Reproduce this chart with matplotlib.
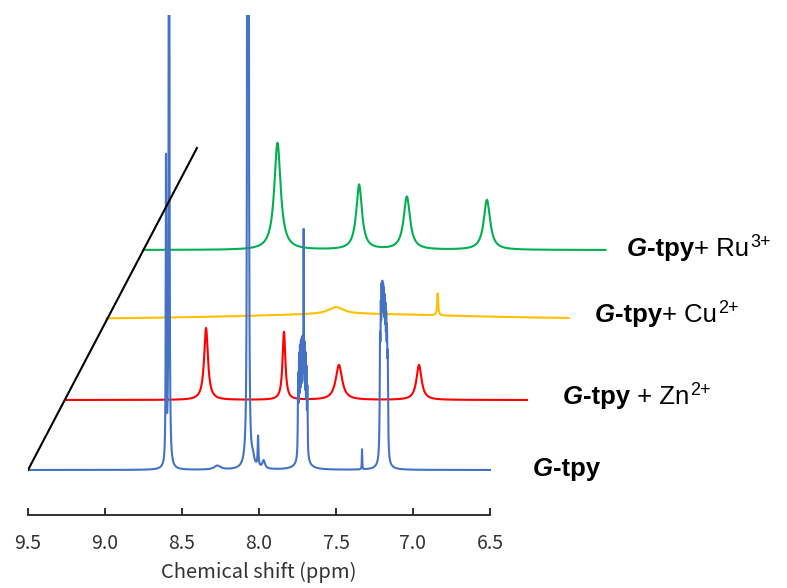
import numpy as np
import matplotlib.pyplot as plt

plt.rcParams['font.family'] = ['Liberation Sans', 'DejaVu Sans']

# eje de desplazamiento quimico (ppm)
ppm = np.linspace(9.5, 6.5, 3001)

# picos: centro (ppm), altura (u.a.), anchura (ppm)
blue_pos = [8.604, 8.584, 8.59, 8.075, 8.068, 8.075, 8.04, 8.006, 7.97, 8.27,
            7.746, 7.740, 7.734, 7.728, 7.722, 7.716, 7.710, 7.704, 7.698, 7.692, 7.686,
            7.715, 7.331,
            7.214, 7.209, 7.204, 7.199, 7.194, 7.189, 7.184, 7.179, 7.174, 7.169, 7.164,
            7.19]
blue_alt = [300, 1200, 8, 1200, 1200, 10, 8, 30, 8, 4,
            75, 85, 87, 87, 86, 84, 195, 83, 80, 73, 63,
            22, 20,
            98, 107, 117, 114, 110, 107, 103, 99, 96, 92, 85,
            10]
blue_anc = [0.004, 0.004, 0.03, 0.004, 0.004, 0.04, 0.02, 0.006, 0.02, 0.05,
            0.004, 0.004, 0.004, 0.004, 0.004, 0.004, 0.003, 0.004, 0.004, 0.004, 0.004,
            0.05, 0.003,
            0.005, 0.005, 0.005, 0.005, 0.005, 0.005, 0.005, 0.005, 0.005, 0.005, 0.005,
            0.04]

red_pos = [8.584, 8.078, 7.721, 7.201]
red_alt = [72, 68, 35, 35]
red_anc = [0.03, 0.022, 0.05, 0.04]

yellow_pos = [7.9, 8.01, 7.35]
yellow_alt = [6, 7, 22]
yellow_anc = [2.0, 0.12, 0.008]

green_pos = [8.63, 8.10, 7.79, 7.27]
green_alt = [107, 65, 53, 50]
green_anc = [0.05, 0.045, 0.05, 0.05]

# desplazamiento de cada espectro (x en ppm, y en u.a.)
desp_x = [0, 0.24, 0.51, 0.75]
desp_y = [0, 70, 150, 220]
colores = ['#4472C4', '#FF0000', '#FFC000', '#00B050']
nombres = [('G', '-tpy', '', ''), ('G', '-tpy', ' + Zn', '2+'),
           ('G', '-tpy', '+ Cu', '2+'), ('G', '-tpy', '+ Ru', '3+')]
# posicion (pixel x de inicio, pixel y de la linea base del texto)
pos_etiquetas = [(533, 476), (563, 404), (595, 322), (627, 256)]


def espectro(centros, alturas, anchos):
    y = np.zeros_like(ppm)
    for c, h, w in zip(centros, alturas, anchos):
        y += h / (1 + ((ppm - c) / (w / 2)) ** 2)
    return y


espectros = [espectro(blue_pos, blue_alt, blue_anc),
             espectro(red_pos, red_alt, red_anc),
             espectro(yellow_pos, yellow_alt, yellow_anc),
             espectro(green_pos, green_alt, green_anc)]

W, H = 787, 588
fig = plt.figure(figsize=(W / 100, H / 100), dpi=100)
ax = fig.add_axes([28 / W, (H - 515) / H, 1 - 28 / W, 500 / H])
ax.set_xlim(9.5, 9.5 - (W - 28) / 154)
ax.set_ylim(-45, 455)

# dibujar de arriba hacia abajo para que el azul quede delante
for i in [3, 2, 1, 0]:
    ax.plot(ppm - desp_x[i], espectros[i] + desp_y[i], color=colores[i], lw=1.5)

# linea diagonal de referencia
ax.plot([9.5, 8.403], [0, 322], color='black', lw=1.5)

for s in ['top', 'right', 'left']:
    ax.spines[s].set_visible(False)
ax.spines['bottom'].set_bounds(6.5, 9.5)
ax.spines['bottom'].set_linewidth(1.3)
ax.spines['bottom'].set_color('#222222')
ax.set_yticks([])
ax.set_xticks([9.5, 9.0, 8.5, 8.0, 7.5, 7.0, 6.5])
ax.set_xticklabels(['9.5', '9.0', '8.5', '8.0', '7.5', '7.0', '6.5'],
                   family=['Noto Sans CJK JP', 'DejaVu Sans'], color='#333333')
ax.tick_params(axis='x', direction='in', length=5, width=1.3, pad=13,
               labelsize=14, color='#222222')
ax.set_xlabel('Chemical shift (ppm)', family=['Noto Sans CJK JP', 'DejaVu Sans'],
              fontsize=14.5, color='#333333')
ax.xaxis.set_label_coords((258.5 - 28) / (W - 28), -(562 - 515) / 500,
                          transform=ax.transAxes)
ax.xaxis.label.set_va('top')

# etiquetas de cada espectro
tam = 18.5
for (g, tpy, ion, carga), (px, py) in zip(nombres, pos_etiquetas):
    t = fig.text(px / W, 1 - py / H, g, fontsize=tam, fontweight='bold',
                 fontstyle='italic', va='baseline', ha='left')
    t = ax.annotate(tpy, xy=(1, 0), xycoords=t, va='bottom', ha='left',
                    fontsize=tam, fontweight='bold')
    if ion:
        t = ax.annotate(ion, xy=(1, 0), xycoords=t, va='bottom', ha='left',
                        fontsize=tam)
        ax.annotate(carga, xy=(1, 0), xycoords=t, va='bottom', ha='left',
                    fontsize=13, textcoords='offset points', xytext=(0.8, 7))

fig.savefig('out.png', dpi=100)
